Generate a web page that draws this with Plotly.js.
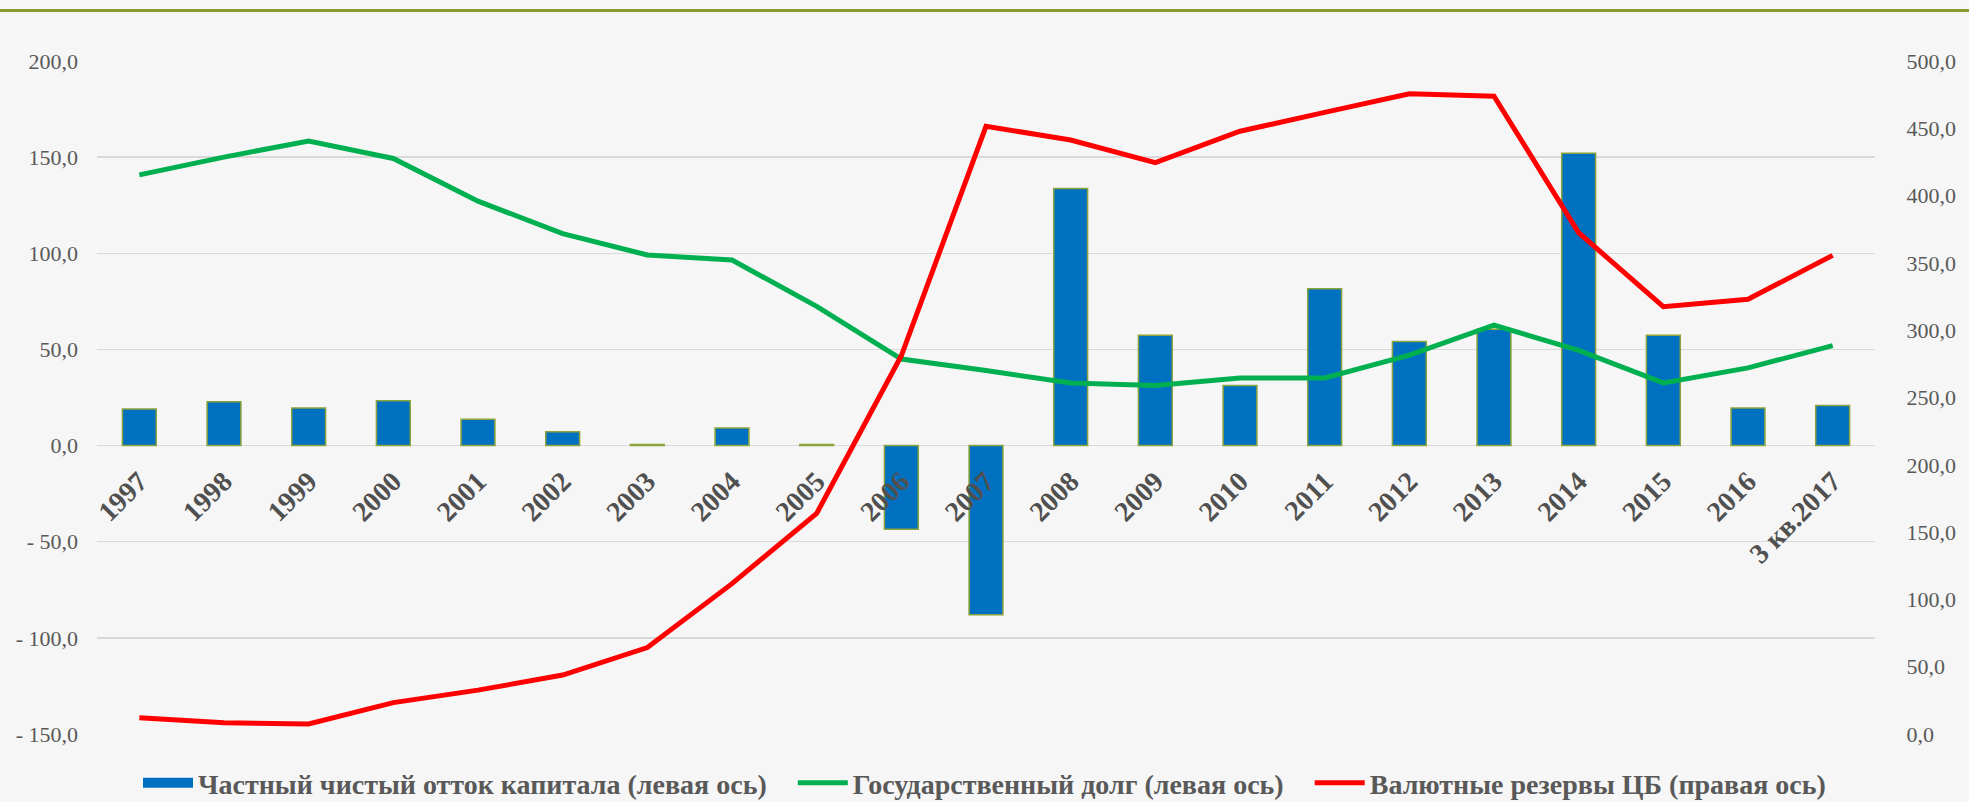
<!DOCTYPE html>
<html>
<head>
<meta charset="utf-8">
<script src="https://cdn.plot.ly/plotly-3.0.1.min.js"></script>
<style>
  html, body { margin: 0; padding: 0; background: #f6f6f6; }
  #wrap { position: relative; width: 1969px; height: 802px; }
  #topline { position: absolute; left: 0; top: 9px; width: 1969px; height: 3px; background: #8a9a2f; z-index: 5; }
  #chart { width: 1969px; height: 802px; }
</style>
</head>
<body>
<div id="wrap">
  <div id="topline"></div>
  <div id="chart"></div>
</div>
<script>
// Categories
const categories = ['1997','1998','1999','2000','2001','2002','2003','2004','2005','2006','2007',
  '2008','2009','2010','2011','2012','2013','2014','2015','2016','3 кв.2017'];

// Частный чистый отток капитала (левая ось)
const capitalOutflow = [19.0, 22.8, 19.6, 23.3, 13.7, 7.2, 0.5, 9.1, 0.5, -43.5, -88.0,
  133.7, 57.4, 31.3, 81.5, 54.1, 60.5, 152.0, 57.4, 19.6, 20.9];

// Государственный долг (левая ось)
const publicDebt = [140.8, 150.0, 158.4, 149.3, 127.1, 110.2, 99.1, 96.5, 72.4, 45.0, 39.0,
  32.6, 31.3, 35.2, 35.2, 47.0, 62.6, 49.5, 32.6, 40.4, 52.0];

// Валютные резервы ЦБ (правая ось)
const fxReserves = [12.1, 8.4, 7.4, 23.3, 32.6, 43.8, 64.2, 111.7, 163.9, 281.0, 451.5,
  441.3, 424.5, 447.8, 461.8, 475.7, 473.9, 372.4, 317.5, 323.0, 355.6];

// Tick labels
const leftTickVals = [-150, -100, -50, 0, 50, 100, 150, 200];
const leftTickText = ['- 150,0', '- 100,0', '- 50,0', '0,0', '50,0', '100,0', '150,0', '200,0'];
const rightTickVals = [0, 50, 100, 150, 200, 250, 300, 350, 400, 450, 500];
const rightTickText = ['0,0', '50,0', '100,0', '150,0', '200,0', '250,0', '300,0', '350,0', '400,0', '450,0', '500,0'];

const seriesNames = ['Частный чистый отток капитала (левая ось)', 'Государственный долг (левая ось)', 'Валютные резервы ЦБ (правая ось)'];

const FONT = 'Liberation Serif, Times New Roman, serif';
const GRAY = '#595959';
const PAD = '\u00a0\u00a0\u00a0';

const traces = [
  {
    type: 'bar', x: categories, y: capitalOutflow, name: seriesNames[0],
    marker: { color: '#0070C0', line: { color: '#8BA33B', width: 1.5 } },
    yaxis: 'y', showlegend: false
  },
  {
    // legend swatch for the bar series (wide rectangle like the original)
    type: 'scatter', mode: 'lines', x: [null], y: [null], name: seriesNames[0] + PAD,
    line: { color: '#0070C0', width: 14 }, yaxis: 'y', legendrank: 1
  },
  {
    type: 'scatter', mode: 'lines', x: categories, y: publicDebt, name: seriesNames[1] + PAD,
    line: { color: '#00B050', width: 5 }, yaxis: 'y', legendrank: 2
  },
  {
    type: 'scatter', mode: 'lines', x: categories, y: fxReserves, name: seriesNames[2],
    line: { color: '#FF0000', width: 5 }, yaxis: 'y2', legendrank: 3
  }
];

const layout = {
  width: 1969, height: 802,
  margin: { l: 97, r: 94, t: 61, b: 68 },
  paper_bgcolor: 'rgba(0,0,0,0)', plot_bgcolor: 'rgba(0,0,0,0)',
  bargap: 0.6,
  showlegend: true,
  legend: {
    orientation: 'h', xref: 'container', x: 0.5, xanchor: 'center',
    yref: 'container', y: 19 / 802, yanchor: 'middle',
    font: { family: FONT, size: 28, color: GRAY, weight: 'bold' },
    bgcolor: 'rgba(0,0,0,0)', traceorder: 'normal', itemwidth: 50
  },
  xaxis: {
    type: 'category', anchor: 'free', position: 150 / 350,
    showgrid: false, showline: false, zeroline: false, ticks: '',
    tickangle: -45, ticklabelstandoff: 13,
    tickfont: { family: FONT, size: 28, color: '#505050', weight: 'bold' }
  },
  yaxis: {
    range: [-150, 200], tickvals: leftTickVals, ticktext: leftTickText,
    showgrid: true, gridcolor: '#d9d9d9', gridwidth: 1.5,
    zeroline: false, showline: false, ticks: '',
    ticklabelstandoff: 18,
    tickfont: { family: FONT, size: 22, color: GRAY }
  },
  yaxis2: {
    range: [0, 500], tickvals: rightTickVals, ticktext: rightTickText,
    overlaying: 'y', side: 'right',
    showgrid: false, zeroline: false, showline: false,
    ticks: 'outside', ticklen: 26, tickcolor: 'rgba(0,0,0,0)',
    tickfont: { family: FONT, size: 22, color: GRAY }
  }
};

Plotly.newPlot('chart', traces, layout, { displayModeBar: false, staticPlot: true });
</script>
</body>
</html>
